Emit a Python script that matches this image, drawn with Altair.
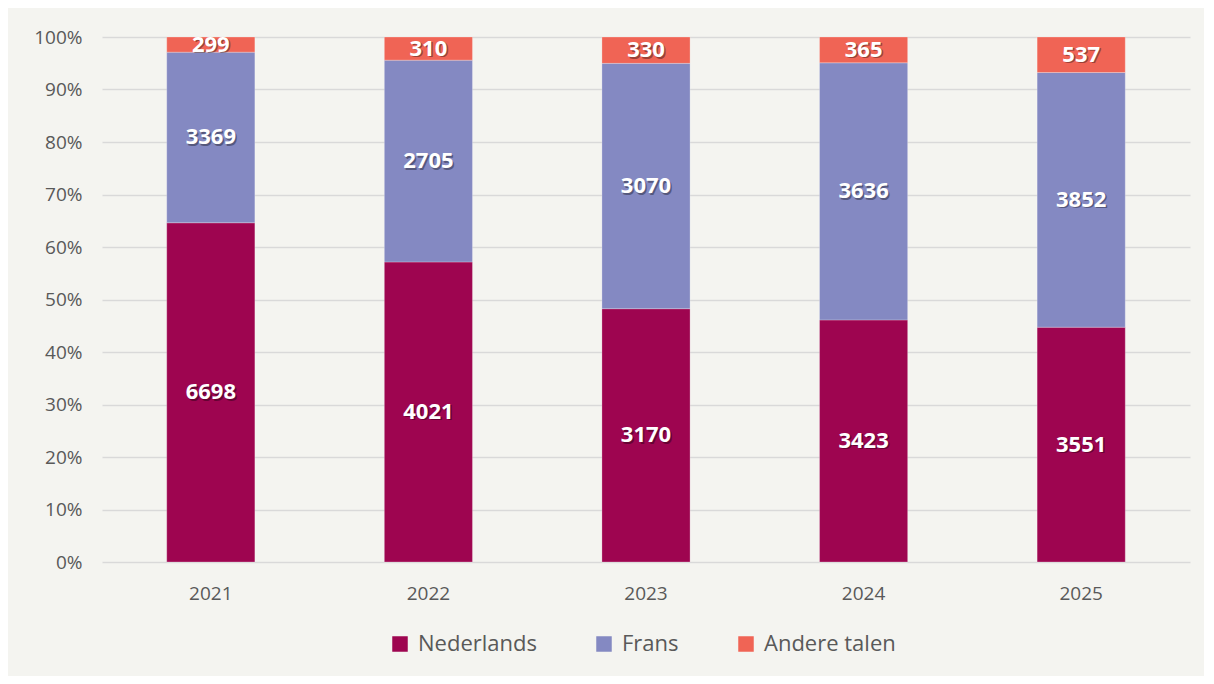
import altair as alt
import pandas as pd

years = ["2021", "2022", "2023", "2024", "2025"]
nederlands = [6698, 4021, 3170, 3423, 3551]
frans = [3369, 2705, 3070, 3636, 3852]
andere = [299, 310, 330, 365, 537]
talen = ["Nederlands", "Frans", "Andere talen"]
kleuren = ["#9e0550", "#8489c2", "#f06455"]

rows = []
for i, y in enumerate(years):
    for k, (t, vals) in enumerate(zip(talen, [nederlands, frans, andere])):
        rows.append({"year": y, "taal": t, "value": vals[i], "k": k})
df = pd.DataFrame(rows)

base = alt.Chart(df).transform_stack(
    stack="value", groupby=["year"], as_=["v0", "v1"],
    sort=[alt.SortField("k", order="ascending")]
).transform_joinaggregate(
    total="sum(value)", groupby=["year"]
).transform_calculate(
    f0="datum.v0 / datum.total",
    f1="datum.v1 / datum.total",
    fm="(datum.v0 + datum.v1) / 2 / datum.total",
)

xenc = alt.X("year:N", title=None,
             scale=alt.Scale(paddingInner=0.595, paddingOuter=0.2975),
             axis=alt.Axis(labelFont="Open Sans", labelFontSize=19, labelColor="#595959",
                           labelPadding=22, ticks=False, domain=False, labelAngle=0, grid=False))

bars = base.mark_bar(stroke="#ffffff", strokeOpacity=0.25, strokeWidth=1).encode(
    x=xenc,
    y=alt.Y("f0:Q", title=None,
            scale=alt.Scale(domain=[0, 1], nice=False),
            axis=alt.Axis(format=".0%", values=[i / 10 for i in range(11)],
                          labelFont="Open Sans", labelFontSize=19, labelColor="#595959",
                          labelPadding=20, ticks=False, domain=False,
                          gridColor="#d9d9d9", gridWidth=1.5)),
    y2="f1:Q",
    color=alt.Color("taal:N", scale=alt.Scale(domain=talen, range=kleuren),
                    legend=alt.Legend(title=None, orient="none", direction="horizontal",
                                      legendX=287, legendY=596,
                                      symbolType="square", symbolSize=240,
                                      symbolStrokeWidth=0,
                                      labelFont="Open Sans", labelFontSize=22,
                                      labelColor="#595959", columnPadding=56,
                                      labelOffset=7)),
    order=alt.Order("k:Q"),
)

shadow = base.mark_text(font="Open Sans", fontSize=22, fontWeight="bold",
                        color="#000000", opacity=0.35, dx=1.5, dy=1.5, baseline="middle").encode(
    x=alt.X("year:N"),
    y=alt.Y("fm:Q"),
    text=alt.Text("value:Q"),
)
labels = base.mark_text(font="Open Sans", fontSize=22, fontWeight="bold",
                        color="#ffffff", baseline="middle").encode(
    x=alt.X("year:N"),
    y=alt.Y("fm:Q"),
    text=alt.Text("value:Q"),
)

chart = alt.layer(bars, shadow, labels).properties(
    width=1088, height=525,
    background="#f4f4f0",
    padding={"left": 94, "top": 29, "right": 14, "bottom": 114},
    autosize=alt.AutoSizeParams(type="none"),
).configure_view(stroke=None)

chart.save("out.html", embed_options={"renderer": "svg", "actions": False})
